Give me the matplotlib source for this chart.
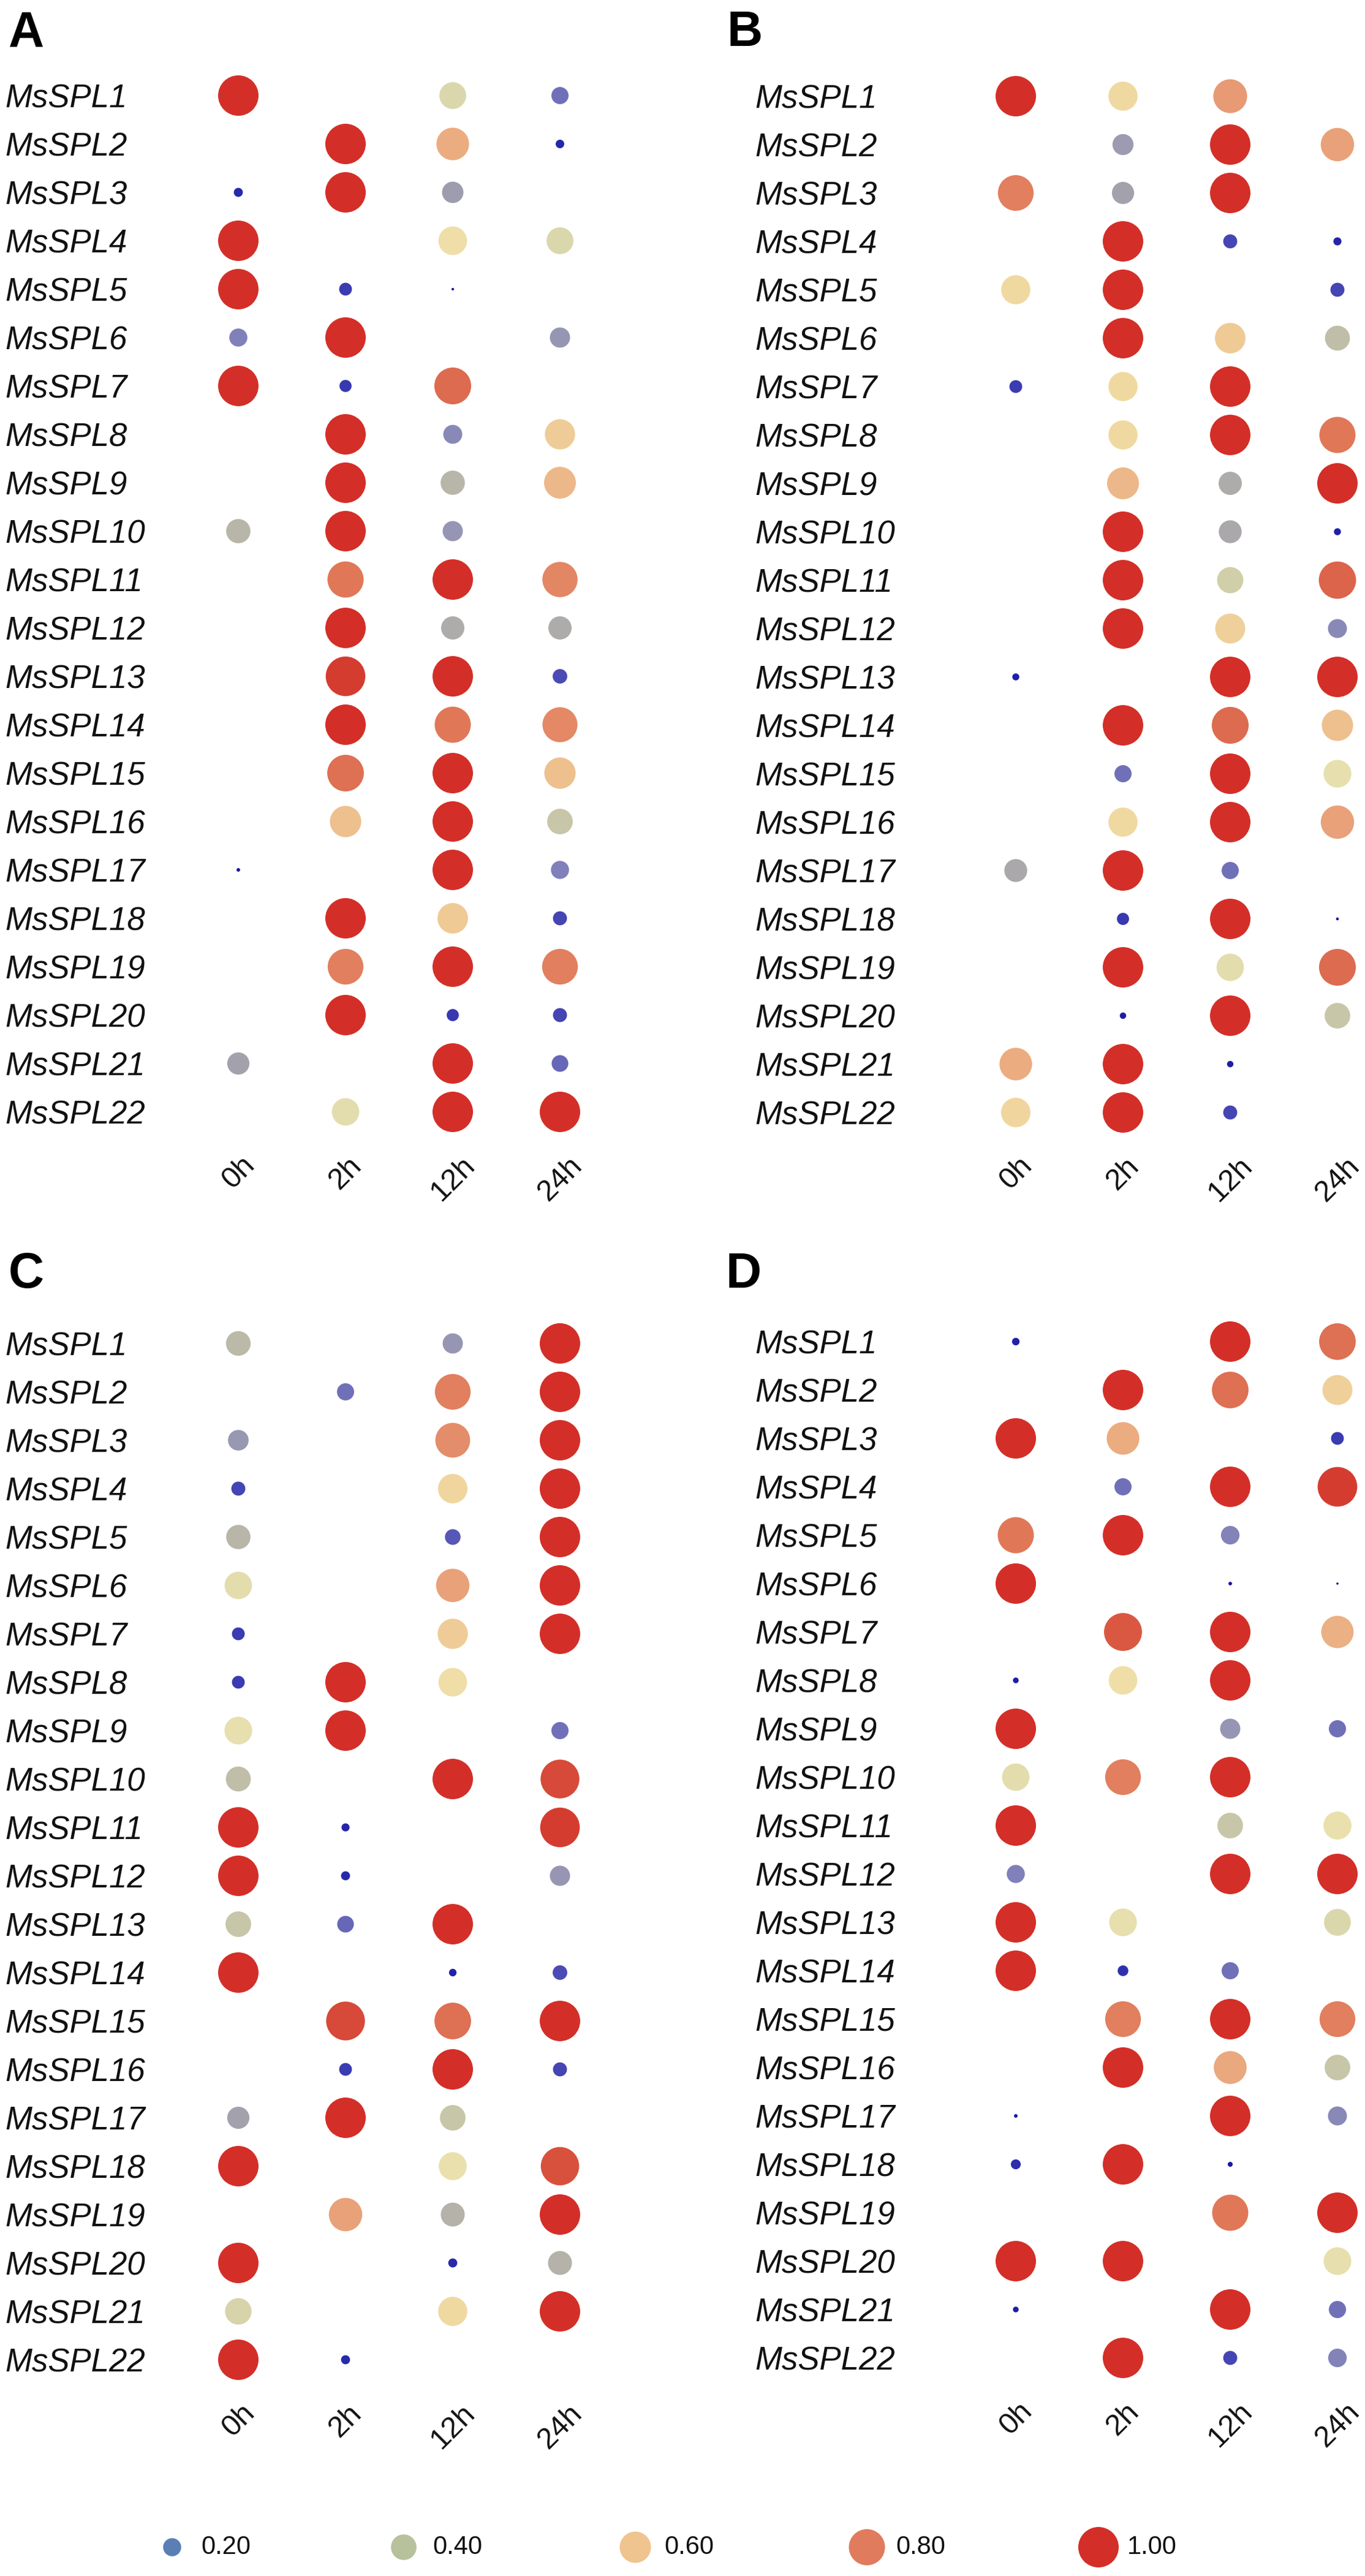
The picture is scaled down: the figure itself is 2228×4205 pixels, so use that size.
import matplotlib
matplotlib.use("Agg")
import matplotlib.pyplot as plt
import numpy as np
from matplotlib.colors import LinearSegmentedColormap

# ---------------- data ----------------
genes = [f"MsSPL{i}" for i in range(1, 23)]
times = ["0h", "2h", "12h", "24h"]

panel_A = [
    [1.0, 0, 0.44, 0.18],
    [0, 1.0, 0.65, 0.045],
    [0.05, 1.0, 0.28, 0],
    [1.0, 0, 0.50, 0.44],
    [1.0, 0.10, 0.004, 0],
    [0.20, 1.0, 0, 0.25],
    [1.0, 0.09, 0.83, 0],
    [0, 1.0, 0.22, 0.56],
    [0, 1.0, 0.36, 0.62],
    [0.36, 1.0, 0.25, 0],
    [0, 0.80, 1.0, 0.76],
    [0, 1.0, 0.33, 0.33],
    [0, 0.96, 1.0, 0.13],
    [0, 1.0, 0.80, 0.75],
    [0, 0.82, 1.0, 0.60],
    [0, 0.60, 1.0, 0.40],
    [0.008, 0, 1.0, 0.20],
    [0, 1.0, 0.57, 0.12],
    [0, 0.78, 1.0, 0.78],
    [0, 1.0, 0.09, 0.12],
    [0.30, 0, 1.0, 0.17],
    [0, 0.46, 1.0, 1.0],
]

panel_B = [
    [1.0, 0.52, 0.70, 0],
    [0, 0.27, 1.0, 0.68],
    [0.78, 0.30, 1.0, 0],
    [0, 1.0, 0.12, 0.04],
    [0.52, 1.0, 0, 0.12],
    [0, 1.0, 0.57, 0.38],
    [0.10, 0.52, 1.0, 0],
    [0, 0.52, 1.0, 0.80],
    [0, 0.62, 0.33, 1.0],
    [0, 1.0, 0.32, 0.03],
    [0, 1.0, 0.42, 0.85],
    [0, 1.0, 0.55, 0.22],
    [0.03, 0, 1.0, 1.0],
    [0, 1.0, 0.83, 0.60],
    [0, 0.18, 1.0, 0.47],
    [0, 0.52, 1.0, 0.68],
    [0.32, 1.0, 0.18, 0],
    [0, 0.09, 1.0, 0.005],
    [0, 1.0, 0.46, 0.83],
    [0, 0.025, 1.0, 0.40],
    [0.65, 1.0, 0.025, 0],
    [0.53, 1.0, 0.12, 0],
]

panel_C = [
    [0.37, 0, 0.25, 1.0],
    [0, 0.18, 0.78, 1.0],
    [0.26, 0, 0.74, 1.0],
    [0.12, 0, 0.53, 1.0],
    [0.36, 0, 0.15, 1.0],
    [0.46, 0, 0.68, 1.0],
    [0.10, 0, 0.56, 1.0],
    [0.10, 1.0, 0.50, 0],
    [0.47, 1.0, 0, 0.18],
    [0.38, 0, 1.0, 0.92],
    [1.0, 0.04, 0, 0.96],
    [1.0, 0.05, 0, 0.25],
    [0.40, 0.17, 1.0, 0],
    [1.0, 0, 0.035, 0.13],
    [0, 0.92, 0.82, 1.0],
    [0, 0.10, 1.0, 0.12],
    [0.30, 1.0, 0.40, 0],
    [1.0, 0, 0.48, 0.90],
    [0, 0.68, 0.35, 1.0],
    [1.0, 0, 0.05, 0.35],
    [0.43, 0, 0.52, 1.0],
    [1.0, 0.05, 0, 0],
]

panel_D = [
    [0.035, 0, 1.0, 0.82],
    [0, 1.0, 0.82, 0.55],
    [1.0, 0.65, 0, 0.10],
    [0, 0.18, 1.0, 0.96],
    [0.80, 1.0, 0.21, 0],
    [1.0, 0, 0.008, 0.003],
    [0, 0.88, 1.0, 0.64],
    [0.02, 0.50, 1.0, 0],
    [1.0, 0, 0.25, 0.18],
    [0.46, 0.78, 1.0, 0],
    [1.0, 0, 0.40, 0.48],
    [0.20, 0, 1.0, 1.0],
    [1.0, 0.47, 0, 0.44],
    [1.0, 0.07, 0.18, 0],
    [0, 0.78, 1.0, 0.78],
    [0, 1.0, 0.66, 0.40],
    [0.008, 0, 1.0, 0.22],
    [0.06, 1.0, 0.015, 0],
    [0, 0, 0.80, 1.0],
    [1.0, 1.0, 0, 0.47],
    [0.02, 0, 1.0, 0.18],
    [0, 1.0, 0.12, 0.21],
]

legend_values = [0.20, 0.40, 0.60, 0.80, 1.00]
legend_labels = ["0.20", "0.40", "0.60", "0.80", "1.00"]

# ---------------- style ----------------
W, H, DPI = 2228, 4205, 100
cmap = LinearSegmentedColormap.from_list("expr", [
    (0.00, "#1414a0"), (0.05, "#2a2aac"), (0.10, "#3c3cb2"), (0.14, "#5050b6"),
    (0.20, "#8080ba"), (0.25, "#9696b4"), (0.30, "#a4a2ac"), (0.36, "#b8b6a8"),
    (0.40, "#c8c6a8"), (0.45, "#e0dcae"), (0.49, "#eee2ac"), (0.53, "#f0d69e"),
    (0.60, "#eec08e"), (0.66, "#eaa87e"), (0.72, "#e69470"), (0.80, "#e07858"),
    (0.86, "#db6048"), (0.92, "#d74a38"), (1.00, "#d32f28"),
])
legend_colors = ["#5b7fb5", "#b7c29c", "#efc48e", "#e07b5e", "#d42e28"]
S_MAX = (66 * 72 / DPI) ** 2  # marker area (pt^2) for value 1

plt.rcParams["font.family"] = ["Liberation Sans", "DejaVu Sans"]
fig = plt.figure(figsize=(W / DPI, H / DPI), dpi=DPI)
fig.patch.set_facecolor("white")

COL_SP = 175.0
ROW_SP = 79.0


def px_axes(x0, y0, x1, y1):
    return fig.add_axes([x0 / W, 1 - y1 / H, (x1 - x0) / W, (y1 - y0) / H])


panels = [
    ("A", panel_A, 389.0, 156.0, 8.0, (14, 75)),
    ("B", panel_B, 1658.0, 157.0, 1232.0, (1187, 75)),
    ("C", panel_C, 389.0, 2193.0, 8.0, (14, 2102)),
    ("D", panel_D, 1658.0, 2190.0, 1232.0, (1185, 2102)),
]

for letter, vals, cx0, ry0, label_x, (lx, ly) in panels:
    v = np.array(vals, dtype=float)
    x0 = cx0 - 0.5 * COL_SP
    x1 = cx0 + 3.25 * COL_SP
    y0 = ry0 - 0.5 * ROW_SP
    y1 = ry0 + 21.5 * ROW_SP
    ax = px_axes(x0, y0, x1, y1)
    ax.set_xlim(-0.5, 3.25)
    ax.set_ylim(21.5, -0.5)
    xi, yi = np.meshgrid(np.arange(len(times)), np.arange(len(genes)))
    ax.scatter(xi.ravel(), yi.ravel(), s=v.ravel() * S_MAX, c=v.ravel(),
               cmap=cmap, vmin=0, vmax=1, linewidths=0, clip_on=False)
    for sp in ax.spines.values():
        sp.set_visible(False)
    ax.set_facecolor("none")
    ax.set_yticks(range(len(genes)))
    ax.set_yticklabels(genes, fontsize=38, style="italic", color="#111111")
    pad_pt = (x0 - label_x) * 72 / DPI
    ax.tick_params(axis="y", length=0, pad=pad_pt)
    for t in ax.get_yticklabels():
        t.set_horizontalalignment("left")
    ax.set_xticks(range(len(times)))
    ax.set_xticklabels(times, fontsize=35, rotation=45, ha="center", color="#111111")
    ax.tick_params(axis="x", length=0, pad=18)
    fig.text(lx / W, 1 - ly / H, letter, fontsize=58, fontweight="bold",
             ha="left", va="baseline", color="black")

# ---------------- legend ----------------
LEG_SP = 378.0
lx0 = 281.0
lax = px_axes(lx0 - 0.5 * LEG_SP, 4110, lx0 + 4.5 * LEG_SP, 4206)
lax.set_xlim(-0.5, 4.5)
lax.set_ylim(-1, 1)
lax.axis("off")
lv = np.array(legend_values)
lax.scatter(np.arange(len(lv)), np.zeros(len(lv)), s=lv * S_MAX,
            c=legend_colors, linewidths=0, clip_on=False)
for i, lab in enumerate(legend_labels):
    lax.annotate(lab, (i, 0), xytext=(34, 0), textcoords="offset points",
                 ha="left", va="center", fontsize=30, color="#111111")

fig.savefig("out.png", dpi=DPI, facecolor="white")
